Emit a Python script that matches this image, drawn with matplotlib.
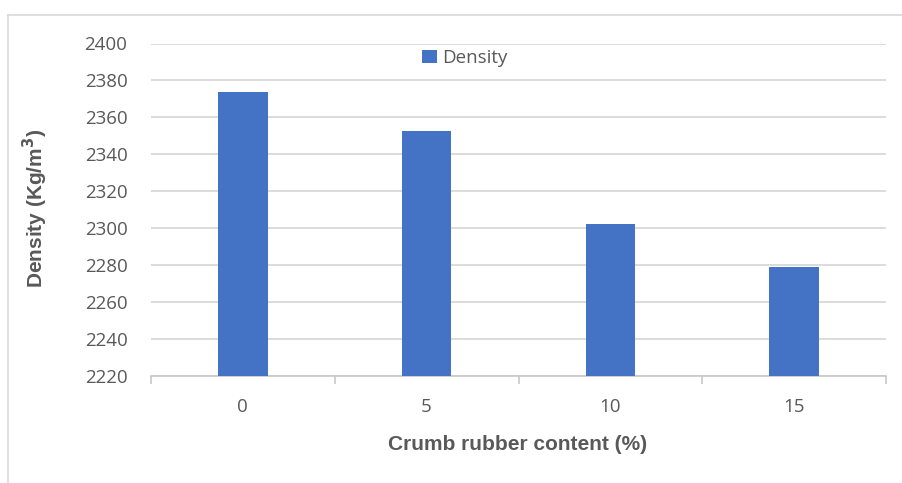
import matplotlib
matplotlib.use("Agg")
import matplotlib.pyplot as plt
from matplotlib.lines import Line2D
import numpy as np

categories = ["0", "5", "10", "15"]
density = [2373.5, 2352.7, 2302.5, 2279]
yticks = [2220, 2240, 2260, 2280, 2300, 2320, 2340, 2360, 2380, 2400]

plt.rcParams['font.family'] = ['Open Sans', 'DejaVu Sans']

W, H = 903, 483
fig = plt.figure(figsize=(W/100, H/100), dpi=100)
ax = fig.add_axes([151/W, 1-376/H, (886-151)/W, (376-43.5)/H])

x = np.arange(len(categories))
ax.bar(x, density, width=0.27, color="#4472C4", zorder=3, label="Density")
ax.set_xlim(-0.5, len(categories)-0.5)
ax.set_ylim(2220, 2400)
ax.set_yticks(yticks)
ax.set_yticklabels([str(v) for v in yticks])
ax.set_xticks(x)
ax.set_xticklabels(categories)
ax.grid(axis='y', color="#D9D9D9", linewidth=1.3, zorder=0)
for s in ['top', 'right', 'left']:
    ax.spines[s].set_visible(False)
ax.spines['bottom'].set_color("#C8C8C8")
ax.spines['bottom'].set_linewidth(1.2)
ax.tick_params(axis='y', length=0, pad=17, labelsize=13.5, labelcolor="#595959")
ax.tick_params(axis='x', length=0, pad=16, labelsize=13.5, labelcolor="#595959")
ax.set_xticks(np.arange(-0.5, len(categories), 1.0), minor=True)
ax.tick_params(axis='x', which='minor', length=6, color="#C8C8C8", width=1.2)

title_font = ['Liberation Sans', 'DejaVu Sans']
fig.text(518/W, 1-444/H, "Crumb rubber content (%)", fontsize=15, fontweight='bold',
         family=title_font, color="#595959", ha='center', va='center')
fig.text(35/W, 1-208/H, "Density (Kg/m$^{\\mathbf{3}}$)", fontsize=15, fontweight='bold',
         family=title_font, color="#595959", ha='center', va='center', rotation=90)

leg = ax.legend(loc='upper center', bbox_to_anchor=((465-151)/(886-151), 1.0), frameon=False,
                fontsize=13.5, handlelength=0.75, handleheight=0.75, handletextpad=0.3,
                borderaxespad=-0.1)
for t in leg.get_texts():
    t.set_color("#595959")

fig.add_artist(Line2D([8/W, 1], [1-15/H, 1-15/H], color="#D9D9D9", linewidth=1.2))
fig.add_artist(Line2D([8/W, 8/W], [0, 1-15/H], color="#D9D9D9", linewidth=1.2))

fig.savefig("out.png", dpi=100)
